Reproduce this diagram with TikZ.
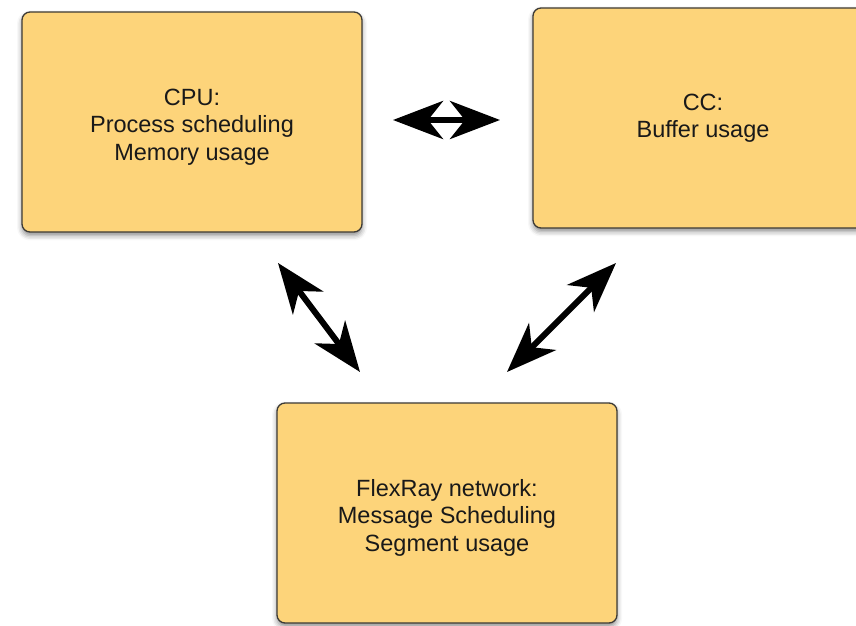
\documentclass[tikz,border=0pt]{standalone}
\usepackage{fontspec}
\setmainfont{Liberation Sans}
\usetikzlibrary{arrows.meta,shadows.blur}

\definecolor{boxfill}{HTML}{FDD47A}
\definecolor{boxline}{HTML}{3C3A36}

% a taller first line nudges the text block a little below the box centre
\newcommand{\firstline}{\rule{0pt}{26pt}}

\tikzset{
  unitbox/.style={
    draw=boxline, line width=1.3pt, fill=boxfill,
    rounded corners=8pt, minimum width=340pt, minimum height=220pt,
    align=center, font=\fontsize{23.5}{27.5}\selectfont, text=black!90,
    blur shadow={shadow xshift=0pt, shadow yshift=-3.5pt,
                 shadow blur radius=5pt, shadow opacity=45}
  },
  link/.style={
    line width=6pt,
    {Stealth[length=50pt,width=38pt,inset=15pt]}-{Stealth[length=50pt,width=38pt,inset=15pt]}
  }
}

\begin{document}
\begin{tikzpicture}[x=1pt,y=1pt]
  \useasboundingbox (0,0) rectangle (856,625);

  % the three units
  \node[unitbox] (cpu) at (192,503) {\firstline CPU:\\Process scheduling\\Memory usage};
  \node[unitbox] (cc)  at (703,507) {CC:\\Buffer usage};
  \node[unitbox] (net) at (447,112) {\firstline FlexRay network:\\Message Scheduling\\Segment usage};

  % arrow end points between the units
  \coordinate (cpuE) at (393,505);
  \coordinate (ccW)  at (500,505);
  \coordinate (cpuS) at (278,362);
  \coordinate (netNW) at (360,253);
  \coordinate (ccS)  at (616,362);
  \coordinate (netNE) at (507,253);

  % links
  \draw[link] (cpuE) -- (ccW);
  \draw[link] (cpuS) -- (netNW);
  \draw[link] (ccS) -- (netNE);
\end{tikzpicture}
\end{document}
